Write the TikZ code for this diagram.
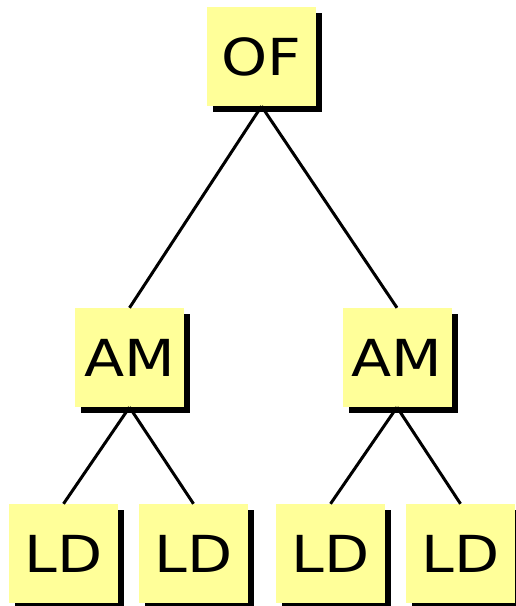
\documentclass[tikz,border=0pt]{standalone}
\usepackage{fontspec}
\setmainfont{DejaVu Sans}
\definecolor{boxfill}{RGB}{255,255,153}
\tikzset{
  tbox/.style={fill=boxfill, minimum width=109pt, minimum height=99pt, inner sep=0pt,
    font=\fontsize{51}{51}\selectfont, anchor=center},
  tshadow/.style={fill=black},
  link/.style={line width=3pt, black},
}
\newcommand{\boxtext}[1]{\scalebox{1.15}[1]{#1}}
\begin{document}
\begin{tikzpicture}[x=1pt,y=-1pt]
\useasboundingbox (0,0) rectangle (516,606);
% shadows
\foreach \cx/\cy in {261.5/56.5, 129.5/357.5, 397/357.5, 63.5/553.5, 193.5/553.5, 330.5/553.5, 460.5/553.5}
  \fill[tshadow] (\cx-54.5+6,\cy-49.5+6) rectangle (\cx+54.5+6,\cy+49.5+6);
% connector coordinates
\coordinate (ofS) at (261.5,106);
\node[tbox] (of) at (261.5,56.5) {\boxtext{OF}};
\node[tbox] (am1) at (129.5,357.5) {\boxtext{AM}};
\node[tbox] (am2) at (397,357.5) {\boxtext{AM}};
\node[tbox] (ld1) at (63.5,553.5) {\boxtext{LD}};
\node[tbox] (ld2) at (193.5,553.5) {\boxtext{LD}};
\node[tbox] (ld3) at (330.5,553.5) {\boxtext{LD}};
\node[tbox] (ld4) at (460.5,553.5) {\boxtext{LD}};
\draw[link] (of.south) -- (am1.north);
\draw[link] (of.south) -- (am2.north);
\draw[link] (am1.south) -- (ld1.north);
\draw[link] (am1.south) -- (ld2.north);
\draw[link] (am2.south) -- (ld3.north);
\draw[link] (am2.south) -- (ld4.north);
\end{tikzpicture}
\end{document}
